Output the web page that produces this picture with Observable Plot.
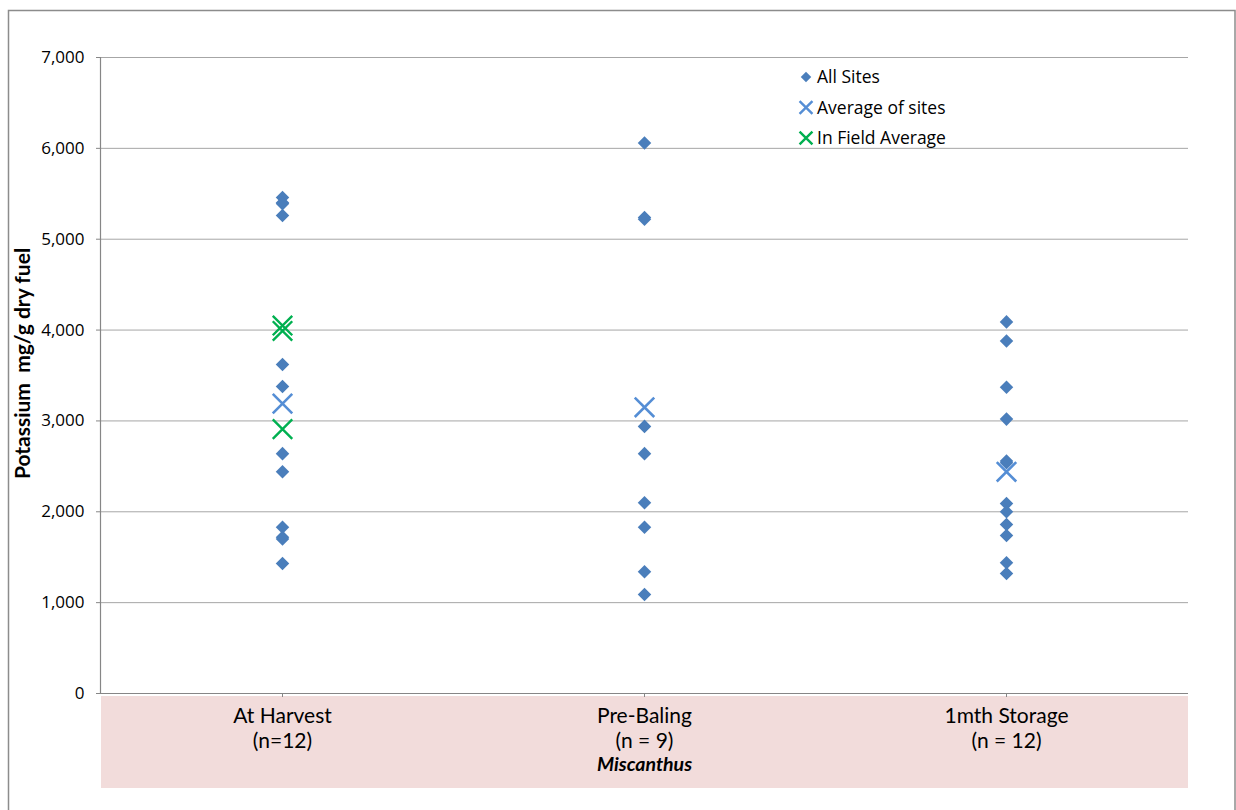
<!DOCTYPE html>
<html><head><meta charset="utf-8">
<script src="https://cdn.jsdelivr.net/npm/d3@7"></script>
<script src="https://cdn.jsdelivr.net/npm/@observablehq/plot@0.6"></script>
<style>
html,body{margin:0;padding:0;background:#fff;}
#chart{width:1236px;height:810px;overflow:hidden;}
</style></head><body><div id="chart"></div>
<script>
// ---- data ----
const categories = ["At Harvest", "Pre-Baling", "1mth Storage"];
const sampleLabels = ["(n=12)", "(n = 9)", "(n = 12)"];
const xTitle = "Miscanthus";
const yTitle = "Potassium  mg/g dry fuel";
const yTicks = [0, 1000, 2000, 3000, 4000, 5000, 6000, 7000];
const atHarvestSites = [5460, 5400, 5390, 5260, 3620, 3380, 2640, 2440, 1830, 1720, 1700, 1430];
const preBalingSites = [6060, 5240, 5220, 2940, 2640, 2100, 1830, 1340, 1090];
const storageSites = [4090, 3880, 3370, 3020, 2560, 2540, 2090, 2000, 1860, 1740, 1440, 1320];
const siteAverages = [3190, 3150, 2440];
const inFieldAverages = [4050, 3990, 2910]; // At Harvest only
const legendLabels = ["All Sites", "Average of sites", "In Field Average"];

// ---- tables ----
const siteSeries = [atHarvestSites, preBalingSites, storageSites];
const sites = categories.flatMap((c, i) => siteSeries[i].map(v => ({stage: c, value: v})));
const averages = categories.map((c, i) => ({stage: c, value: siteAverages[i]}));
const inField = inFieldAverages.map(v => ({stage: categories[0], value: v}));
const catLabels = categories.map((c, i) => ({stage: c, name: c, n: sampleLabels[i]}));

const colDiamond = "#4a7ebb", colAvg = "#558ed5", colField = "#00b050", colGrid = "#a6a6a6", colAxis = "#868686";

const W = 1236, H = 810, mL = 100, mR = 48, mT = 57, mB = 117;
const labelFont = "Lato, sans-serif";

const plot = Plot.plot({
  width: W, height: H,
  marginLeft: mL, marginRight: mR, marginTop: mT, marginBottom: mB,
  style: {fontFamily: "'Open Sans', sans-serif", fontSize: "17px", color: "#000", background: "transparent", overflow: "visible"},
  x: {type: "point", domain: categories, padding: 0.5, tickSize: 4, tickFormat: () => "", label: null},
  y: {domain: [0, 7000], ticks: yTicks, tickFormat: d3.format(","), tickSize: 4, tickPadding: 12, label: null},
  marks: [
    Plot.ruleY(yTicks.filter(d => d > 0), {stroke: colGrid, strokeWidth: 1}),
    Plot.ruleY([0], {stroke: colAxis, strokeWidth: 1.2}),
    Plot.dot(sites, {x: "stage", y: "value", symbol: "diamond2", r: 6.1, fill: colDiamond, stroke: "none"}),
    Plot.dot(averages, {x: "stage", y: "value", symbol: "times", r: 8.9, stroke: colAvg, strokeWidth: 2.6, fill: "none"}),
    Plot.dot(inField, {x: "stage", y: "value", symbol: "times", r: 8.9, stroke: colField, strokeWidth: 2.4, fill: "none"}),
    Plot.text(catLabels, {x: "stage", text: "name", frameAnchor: "bottom", dy: 23, lineAnchor: "middle", fontFamily: labelFont, fontSize: 21, fill: "#000"}),
    Plot.text(catLabels, {x: "stage", text: "n", frameAnchor: "bottom", dy: 48, lineAnchor: "middle", fontFamily: labelFont, fontSize: 21, fill: "#000"}),
    Plot.text([xTitle], {text: d => d, frameAnchor: "bottom", dy: 71, lineAnchor: "middle", fontFamily: labelFont, fontSize: 19.5, fontStyle: "italic", fontWeight: "bold", fill: "#000"}),
    Plot.text([yTitle], {text: d => d, frameAnchor: "left", textAnchor: "middle", rotate: -90, dx: -77, dy: -12, lineAnchor: "middle", fontFamily: labelFont, fontSize: 21, fontWeight: "bold", fill: "#000"})
  ]
});
document.getElementById("chart").appendChild(plot);

// ---- decorations ----
const svg = d3.select(plot);
// pink category band behind everything
svg.insert("rect", ":first-child")
  .attr("x", mL + 1).attr("y", H - mB + 3).attr("width", W - mL - mR - 1).attr("height", 92)
  .attr("fill", "#f2dcdb");
// outer border
svg.append("rect").attr("x", 8.5).attr("y", 10.5).attr("width", 1226.5).attr("height", 820)
  .attr("fill", "none").attr("stroke", "#8c8c8c").attr("stroke-width", 1.5);
// y axis line
svg.append("line").attr("x1", mL + 0.5).attr("x2", mL + 0.5).attr("y1", mT).attr("y2", H - mB)
  .attr("stroke", colAxis).attr("stroke-width", 1.2);
// tick colours gray
svg.selectAll('g[aria-label^="y-axis"] line, g[aria-label^="y-axis"] path, g[aria-label^="x-axis"] line, g[aria-label^="x-axis"] path')
  .attr("stroke", colAxis);

// legend
const legendSymbols = [d3.symbolDiamond2, d3.symbolTimes, d3.symbolTimes];
const legendColors = [colDiamond, colAvg, colField];
const legendSizes = [70, 110, 110];
const lg = svg.append("g").attr("font-family", "'Open Sans', sans-serif").attr("font-size", 17.5).attr("text-anchor", "start");
legendLabels.forEach((lab, i) => {
  const y = 77 + i * 30.5;
  const p = lg.append("path").attr("transform", `translate(806,${y})`)
    .attr("d", d3.symbol(legendSymbols[i], legendSizes[i])());
  if (i === 0) p.attr("fill", legendColors[i]);
  else p.attr("fill", "none").attr("stroke", legendColors[i]).attr("stroke-width", 2.4);
  lg.append("text").attr("x", 817).attr("y", y).attr("dy", "0.35em").attr("fill", "#000").attr("text-anchor", "start").text(lab);
});
</script>
</body></html>
